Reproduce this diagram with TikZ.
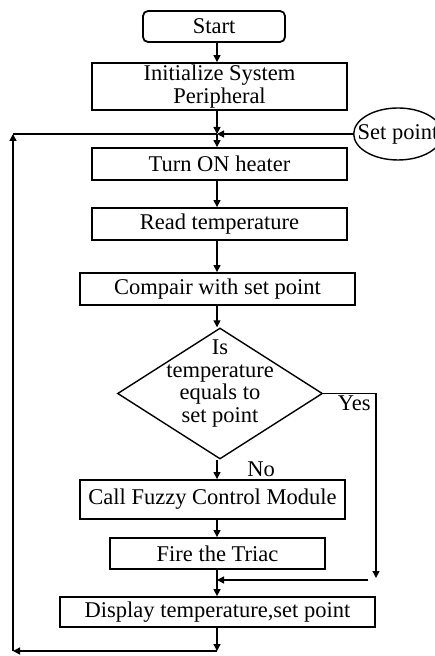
\documentclass[tikz,border=0pt]{standalone}
\usepackage{fontspec}
\setmainfont{Liberation Serif}
\usetikzlibrary{shapes.geometric,arrows.meta}

\begin{document}
\begin{tikzpicture}[x=0.5pt, y=-0.5pt, line width=0.7pt,
		font=\fontsize{11.25}{11.4}\selectfont,
		>={Triangle[length=3.5pt,width=3.5pt]},
		box/.style={rectangle, draw, line width=0.9pt, inner sep=0pt, align=center},
		decision/.style={diamond, draw, minimum width=102.5pt, minimum height=65.5pt}]
		\useasboundingbox (0,0) rectangle (434,656);
		\coordinate (axis) at (217,0);

		\node[box, rounded corners=2.5pt, minimum width=71pt, minimum height=15.5pt] (start) at (214,26.5) {Start};
		\node[box, minimum width=127.5pt, minimum height=23.5pt] (init) at (219.5,86.5) {Initialize System\\Peripheral};
		\node[ellipse, draw, inner xsep=-4.5pt, minimum height=26pt] (setpt) at (398,134) {Set point};
		\node[box, minimum width=127.5pt, minimum height=16pt] (heater) at (219.5,164) {Turn ON heater};
		\node[box, minimum width=127.5pt, minimum height=16pt] (read) at (219.5,224) {Read temperature};
		\node[box, minimum width=137.5pt, minimum height=16pt] (compare) at (217.5,289) {Compair with set point};
		\node[decision, label={[align=center, yshift=5pt]center:Is\\temperature\\equals to\\set point}] (decide) at (220,393.5) {};
		\node[box, minimum width=132.5pt, minimum height=19.5pt] (fuzzy) at (212.5,499.5) {Call Fuzzy Control Module};
		\node[box, minimum width=107.5pt, minimum height=15.5pt] (triac) at (217.5,553.5) {Fire the Triac};
		\node[box, minimum width=157.5pt, minimum height=15pt] (display) at (217.5,612) {Display temperature,set point};

		\coordinate (j1) at (217,134);
		\coordinate (looptl) at (13,134);
		\coordinate (loopbl) at (13,651);
		\coordinate (loopend) at (217,651);
		\coordinate (yescorner) at (376,393.5);
		\coordinate (yesend) at (376,578);
		\coordinate (yesin) at (368,580);
		\coordinate (merge) at (217,580);

		\foreach \a/\b in {start/init, heater/read, read/compare, compare/decide, fuzzy/triac}
			\draw[->] (axis |- \a.south) -- (axis |- \b.north);

		\draw[->] (axis |- init.south) -- (j1);
		\draw[->] (setpt) -- (j1);
		\draw[->] (j1) -- (axis |- heater.north);
		\draw[->] (axis |- decide.south) -- node[right=11.5pt] {No} (axis |- fuzzy.north);
		\draw[->] (decide.east) -- node[pos=0.59, below, inner sep=1pt] {Yes} (yescorner) -- (yesend);
		\draw (axis |- triac.south) -- (merge);
		\draw[->] (yesin) -- (merge);
		\draw[->] (merge) -- (axis |- display.north);
		\draw[->] (axis |- display.south) -- (loopend);
		\draw[->] (loopend) -- (loopbl);
		\draw[->] (loopbl) -- (looptl);
		\draw (looptl) -- (j1);
	\end{tikzpicture}
\end{document}
